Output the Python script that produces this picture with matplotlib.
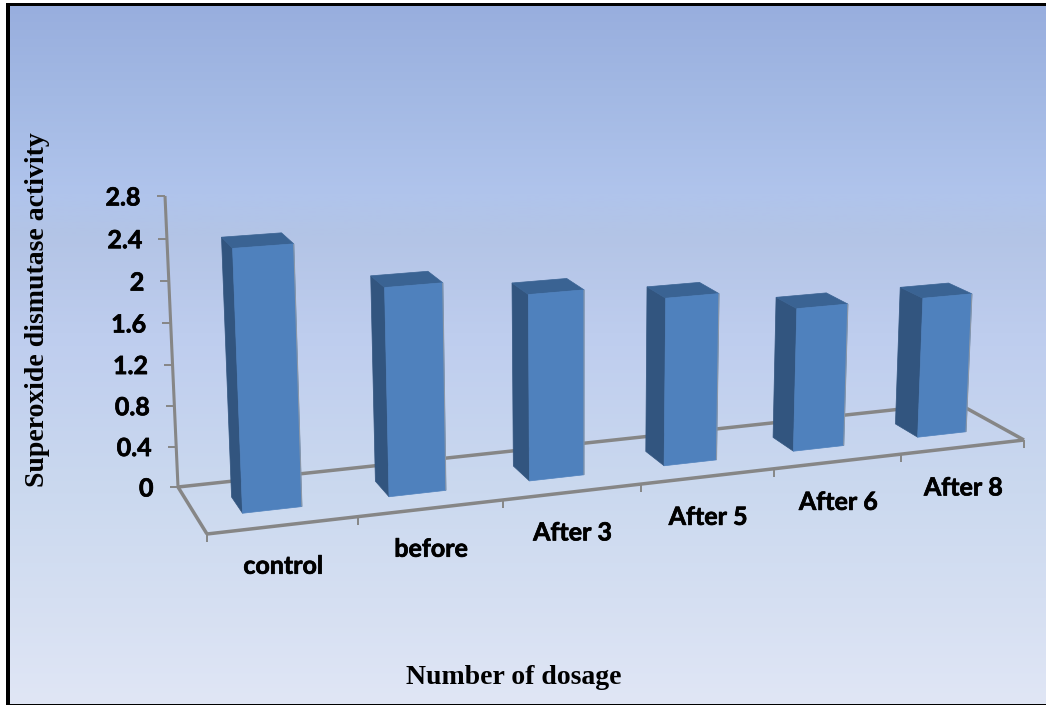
import numpy as np
import matplotlib
matplotlib.use("Agg")
import matplotlib.pyplot as plt
import matplotlib.patheffects as pe
from matplotlib.patches import Polygon, Rectangle
from matplotlib.colors import LinearSegmentedColormap

# ---- chart data ----
categories = ["control", "before", "After 3", "After 5", "After 6", "After 8"]
values = [2.48, 2.01, 1.83, 1.68, 1.46, 1.45]
y_ticks = [0, 0.4, 0.8, 1.2, 1.6, 2, 2.4, 2.8]
y_tick_labels = ["0", "0.4", "0.8", "1.2", "1.6", "2", "2.4", "2.8"]
y_title = "Superoxide dismutase activity"
x_title = "Number of dosage"

W, H = 1046, 705
fig = plt.figure(figsize=(W / 100, H / 100), dpi=100, facecolor="white")
ax = fig.add_axes([0, 0, 1, 1])
ax.set_xlim(0, W)
ax.set_ylim(H, 0)
ax.axis("off")

# background gradient
stops = [(0.0, "#98AEDE"), (0.13, "#A3B9E4"), (0.27, "#B0C4EC"), (0.33, "#B3C4E6"),
         (0.47, "#BECDEE"), (0.70, "#CBD9EF"), (0.85, "#D5DFF2"), (1.0, "#E0E6F5")]
cmap = LinearSegmentedColormap.from_list("bg", stops)
ax.imshow(np.linspace(0, 1, 256)[:, None], cmap=cmap, aspect="auto",
          extent=(8, W, 704, 4), zorder=0, vmin=0, vmax=1)
ax.set_xlim(0, W)
ax.set_ylim(H, 0)

# frame
for r in [(6, 3, 4, 702), (6, 3, 1040, 3), (6, 703.5, 1040, 1.5)]:
    ax.add_patch(Rectangle((r[0], r[1]), r[2], r[3], fc="black", ec="none", zorder=1))

# ---- perspective camera: floor corners and vertical vanishing point ----
n = len(categories)
src = [(0, 0), (n, 0), (n, 1), (0, 1)]
dst = [(207, 534), (1024, 440), (957, 403), (178, 487)]
A, b = [], []
for (s, t), (u, w) in zip(src, dst):
    A.append([s, t, 1, 0, 0, 0, -u * s, -u * t]); b.append(u)
    A.append([0, 0, 0, s, t, 1, -w * s, -w * t]); b.append(w)
hom = np.append(np.linalg.solve(np.array(A, float), np.array(b, float)), 1).reshape(3, 3)
vp = np.array([579.0, 9467.0, 1.0])
w0 = (hom @ np.array([0, 1, 1]))[2]
k = (-0.03139 / 2.8) * w0


def proj(t, d, v=0.0):
    p = hom @ np.array([t, d, 1.0]) + v * k * vp
    return p[0] / p[2], p[1] / p[2]


axis_col = "#868686"
heavy = [pe.withStroke(linewidth=0.5, foreground="black")]


def line(p, q, lw=2.5, z=2, c=axis_col):
    ax.plot([p[0], q[0]], [p[1], q[1]], color=c, lw=lw, zorder=z, solid_capstyle="butt")


# floor and axes
line(proj(0, 1), proj(n, 1))
line(proj(n, 1), proj(n, 0))
line(proj(0, 1), proj(0, 0))
line(proj(0, 0), proj(n, 0))
line(proj(0, 1, 0), proj(0, 1, y_ticks[-1]), lw=2.2)
for v, lab in zip(y_ticks, y_tick_labels):
    x, y = proj(0, 1, v)
    line((x - 8.5, y), (x, y), lw=1.4)
    ax.text(x - 24.5, y + 2, lab, ha="right", va="center", family="Lato", weight="bold",
            fontsize=18, color="black", zorder=5, path_effects=heavy)
for i in range(n + 1):
    x, y = proj(i, 0)
    line((x, y), (x, y + 8), lw=1.4)

# bars
t0, t1, d0, d1 = 0.30, 0.70, 0.32, 0.67
FRONT, SIDE, TOP = "#4F81BD", "#32557F", "#3A6393"
for i, v in enumerate(values):
    fbl, fbr = proj(i + t0, d0), proj(i + t1, d0)
    ftl, ftr = proj(i + t0, d0, v), proj(i + t1, d0, v)
    bbl, btl = proj(i + t0, d1), proj(i + t0, d1, v)
    btr = proj(i + t1, d1, v)
    ax.add_patch(Polygon([bbl, fbl, ftl, btl], fc=SIDE, ec=SIDE, lw=0.5, zorder=3))
    ax.add_patch(Polygon([btl, ftl, ftr, btr], fc=TOP, ec=TOP, lw=0.5, zorder=3))
    ax.add_patch(Polygon([fbl, fbr, ftr, ftl], fc=FRONT, ec=FRONT, lw=0.5, zorder=3))
    line(fbr, ftr, lw=0.8, z=3, c="#8A97A8")

# category labels
for i, c in enumerate(categories):
    x, y = proj(i + 0.5, 0)
    ax.text(x, y + 41, c, ha="center", va="center", family="Lato", weight="bold",
            fontsize=18, color="black", zorder=5, path_effects=heavy)

ax.text(38, 310, y_title, rotation=90, ha="center", va="center", family="Liberation Serif",
        weight="bold", fontsize=20, color="black", zorder=5)
ax.text(514, 678, x_title, ha="center", va="center", family="Liberation Serif",
        weight="bold", fontsize=20, color="black", zorder=5)

fig.savefig("out.png", dpi=100)
